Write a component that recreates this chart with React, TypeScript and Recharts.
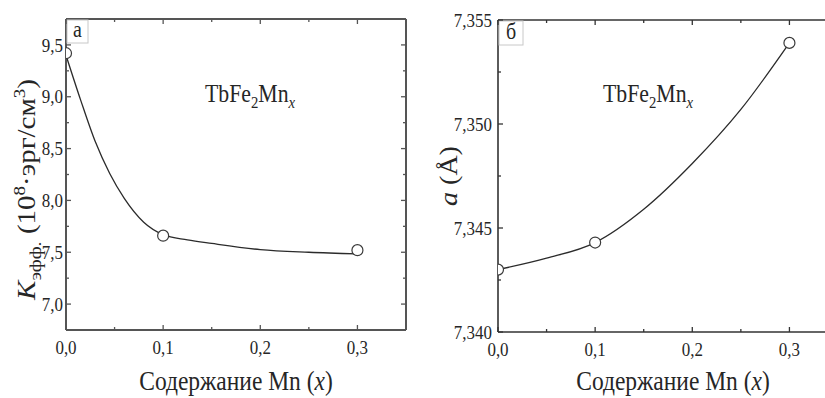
import React from 'react';
import { LineChart, Line, XAxis, YAxis, Label } from 'recharts';

// ---------- data: panel а ----------
const aPointX = [0, 0.1, 0.3];
const aPointY = [9.42, 7.66, 7.52];
const aCurveX = [0, 0.015, 0.03, 0.045, 0.06, 0.08, 0.1, 0.125, 0.15, 0.2, 0.25, 0.3];
const aCurveY = [9.4, 8.97, 8.57, 8.26, 8.02, 7.79, 7.67, 7.62, 7.585, 7.525, 7.5, 7.485];
const aYMajor = [7.0, 7.5, 8.0, 8.5, 9.0, 9.5];
const aYMinor = [7.25, 7.75, 8.25, 8.75, 9.25];
const aYLabels = ['7,0', '7,5', '8,0', '8,5', '9,0', '9,5'];

// ---------- data: panel б ----------
const bPointX = [0, 0.1, 0.3];
const bPointY = [7.343, 7.3443, 7.3539];
const bCurveX = [0, 0.05, 0.1, 0.15, 0.2, 0.25, 0.3];
const bCurveY = [7.343, 7.34355, 7.3443, 7.3459, 7.3481, 7.3507, 7.3539];
const bYMajor = [7.34, 7.345, 7.35, 7.355];
const bYMinor = [7.3425, 7.3475, 7.3525];
const bYLabels = ['7,340', '7,345', '7,350', '7,355'];

// ---------- shared x ----------
const xMajor = [0, 0.1, 0.2, 0.3];
const xMinor = [0.05, 0.15, 0.25];
const xLabels = ['0,0', '0,1', '0,2', '0,3'];

const FONT = 'Liberation Serif, Times New Roman, serif';
const SX = 0.87;
const TEXT = '#262626';
const fontStyle = (fs: number) => ({ fontFamily: FONT, fontSize: fs });

const zip = (xs: number[], ys: number[]) => xs.map((x, i) => ({ x, y: ys[i] }));

type Orient = 'bottom' | 'top' | 'left' | 'right';

function makeTick(orient: Orient, majors: number[], labels: string[] | null, color: string, offset: number, fs: number) {
  return function Tick(props: any) {
    const { x, y, payload } = props;
    const idx = majors.findIndex((m) => Math.abs(m - payload.value) < 1e-9);
    const len = idx >= 0 ? 5 : 3;
    let x2 = x;
    let y2 = y;
    if (orient === 'bottom') y2 = y - len;
    if (orient === 'top') y2 = y + len;
    if (orient === 'left') x2 = x + len;
    if (orient === 'right') x2 = x - len;
    let label: any = null;
    if (labels && idx >= 0) {
      if (orient === 'bottom') {
        label = (
          <text transform={`translate(${x},${y + offset}) scale(${SX},1)`} textAnchor="middle" style={fontStyle(fs)} fill={TEXT}>
            {labels[idx]}
          </text>
        );
      } else if (orient === 'left') {
        label = (
          <text transform={`translate(${x - offset},${y}) scale(${SX},1)`} textAnchor="end" dy="0.34em" style={fontStyle(fs)} fill={TEXT}>
            {labels[idx]}
          </text>
        );
      }
    }
    return (
      <g>
        <line x1={x} y1={y} x2={x2} y2={y2} stroke={color} strokeWidth={1.3} />
        {label}
      </g>
    );
  };
}

interface PanelProps {
  left: number;
  width: number;
  margin: { top: number; right: number; bottom: number; left: number };
  yAxisWidth: number;
  xAxisHeight: number;
  yDomain: [number, number];
  yMajor: number[];
  yMinor: number[];
  yLabels: string[];
  points: { x: number; y: number }[];
  curve: { x: number; y: number }[];
  axisColor: string;
  axisWidth: number;
  yLabelOffset: number;
  letter: string;
  letterBox: [number, number];
  annot: [number, number];
  yTitle: (plotL: number, plotT: number, plotB: number) => any;
  xTitleShift: number;
}

function Panel(p: PanelProps) {
  const H = 398;
  const plotL = p.margin.left + p.yAxisWidth;
  const plotT = p.margin.top + 1;
  const plotR = p.width - p.margin.right - 1;
  const plotB = H - p.margin.bottom - p.xAxisHeight;
  const xTicks = [...xMajor, ...xMinor].sort((a, b) => a - b);
  const yTicks = [...p.yMajor, ...p.yMinor].sort((a, b) => a - b);
  const axisLine = { stroke: p.axisColor, strokeWidth: p.axisWidth };

  const annotation = () => (
    <g>
      <rect x={plotL + 1} y={plotT + 1} width={p.letterBox[0]} height={p.letterBox[1]} fill="#fff" stroke="#c8c8c8" strokeWidth={1} />
      <text
        transform={`translate(${plotL + 1 + p.letterBox[0] / 2},${plotT + p.letterBox[1] - 5}) scale(${SX},1)`}
        textAnchor="middle"
        style={fontStyle(23)}
        fill={TEXT}
      >
        {p.letter}
      </text>
      <text transform={`translate(${plotL + p.annot[0]},${plotT + p.annot[1]}) scale(${SX},1)`} style={fontStyle(25)} fill={TEXT}>
        TbFe
        <tspan dy={6} fontSize={17}>2</tspan>
        <tspan dy={-6}>Mn</tspan>
        <tspan dy={6} fontSize={17} fontStyle="italic">x</tspan>
      </text>
    </g>
  );

  const xTitle = () => (
    <text
      transform={`translate(${(plotL + plotR) / 2 + p.xTitleShift},${390}) scale(${SX},1)`}
      textAnchor="middle"
      style={fontStyle(27)}
      fill={TEXT}
    >
      Содержание Mn (<tspan fontStyle="italic">x</tspan>)
    </text>
  );

  return (
    <div style={{ position: 'absolute', left: p.left, top: 0 }}>
      <LineChart width={p.width} height={H} margin={p.margin}>
        <XAxis
          xAxisId="b"
          dataKey="x"
          type="number"
          orientation="bottom"
          domain={[0, 0.35]}
          ticks={xTicks}
          interval={0}
          height={p.xAxisHeight}
          tickSize={0}
          tickMargin={0}
          tickLine={false}
          axisLine={axisLine}
          tick={makeTick('bottom', xMajor, xLabels, p.axisColor, 24, 19.5)}
          allowDataOverflow
        >
          <Label content={xTitle} />
        </XAxis>
        <XAxis
          xAxisId="t"
          dataKey="x"
          type="number"
          orientation="top"
          domain={[0, 0.35]}
          ticks={xTicks}
          interval={0}
          height={1}
          tickSize={0}
          tickMargin={0}
          tickLine={false}
          axisLine={axisLine}
          tick={makeTick('top', xMajor, null, p.axisColor, 0, 0)}
          allowDataOverflow
        />
        <YAxis
          yAxisId="l"
          type="number"
          orientation="left"
          domain={p.yDomain}
          ticks={yTicks}
          interval={0}
          width={p.yAxisWidth}
          tickSize={0}
          tickMargin={0}
          tickLine={false}
          axisLine={axisLine}
          tick={makeTick('left', p.yMajor, p.yLabels, p.axisColor, p.yLabelOffset, 19.5)}
          allowDataOverflow
        >
          <Label content={() => p.yTitle(plotL, plotT, plotB)} />
        </YAxis>
        <YAxis
          yAxisId="r"
          type="number"
          orientation="right"
          domain={p.yDomain}
          ticks={yTicks}
          interval={0}
          width={1}
          tickSize={0}
          tickMargin={0}
          tickLine={false}
          axisLine={axisLine}
          tick={makeTick('right', p.yMajor, null, p.axisColor, 0, 0)}
          allowDataOverflow
        >
          <Label content={annotation} />
        </YAxis>
        {/* invisible series binding the mirrored frame axes */}
        <Line
          xAxisId="t"
          yAxisId="r"
          data={p.points}
          dataKey="y"
          stroke="none"
          strokeWidth={0}
          dot={false}
          activeDot={false}
          legendType="none"
          isAnimationActive={false}
        />
        <Line
          xAxisId="b"
          yAxisId="l"
          data={p.curve}
          dataKey="y"
          type="monotone"
          stroke="#2b2b2b"
          strokeWidth={1.3}
          dot={false}
          isAnimationActive={false}
        />
        <Line
          xAxisId="b"
          yAxisId="l"
          data={p.points}
          dataKey="y"
          stroke="none"
          strokeWidth={0}
          dot={{ r: 5.5, fill: '#fff', stroke: '#3a3a3a', strokeWidth: 1.2 }}
          isAnimationActive={false}
        />
      </LineChart>
    </div>
  );
}

const titleA = (plotL: number, plotT: number, plotB: number) => (
  <text
    transform={`translate(${35},${(plotT + plotB) / 2 + 15}) scale(${SX},1) rotate(-90)`}
    textAnchor="middle"
    style={fontStyle(29)}
    fill={TEXT}
  >
    <tspan fontStyle="italic">K</tspan>
    <tspan dy={7} fontSize={20}>эфф.</tspan>
    <tspan dy={-7}> (10</tspan>
    <tspan dy={-11} fontSize={19}>8</tspan>
    <tspan dy={11}>·эрг/см</tspan>
    <tspan dy={-11} fontSize={19}>3</tspan>
    <tspan dy={11}>)</tspan>
  </text>
);

const titleB = (plotL: number, plotT: number, plotB: number) => (
  <text
    transform={`translate(${plotL - 41},${(plotT + plotB) / 2}) scale(${SX},1) rotate(-90)`}
    textAnchor="middle"
    style={fontStyle(28)}
    fill={TEXT}
  >
    <tspan fontStyle="italic">a</tspan> (Å)
  </text>
);

export default function App() {
  return (
    <div style={{ position: 'absolute', left: 0, top: 0, width: 825, height: 398, overflow: 'hidden', background: '#fff' }}>
      <Panel
        left={0}
        width={415}
        margin={{ top: 18, right: 8, bottom: 0, left: 0 }}
        yAxisWidth={66}
        xAxisHeight={68}
        yDomain={[6.75, 9.75]}
        yMajor={aYMajor}
        yMinor={aYMinor}
        yLabels={aYLabels}
        points={zip(aPointX, aPointY)}
        curve={zip(aCurveX, aCurveY)}
        axisColor="#555"
        axisWidth={2}
        yLabelOffset={3}
        letter="а"
        letterBox={[21, 23]}
        annot={[139, 83]}
        yTitle={titleA}
        xTitleShift={0}
      />
      <Panel
        left={415}
        width={428}
        margin={{ top: 19, right: 4, bottom: 0, left: 0 }}
        yAxisWidth={83}
        xAxisHeight={66}
        yDomain={[7.34, 7.355]}
        yMajor={bYMajor}
        yMinor={bYMinor}
        yLabels={bYLabels}
        points={zip(bPointX, bPointY)}
        curve={zip(bCurveX, bCurveY)}
        axisColor="#333"
        axisWidth={1.6}
        yLabelOffset={6}
        letter="б"
        letterBox={[24, 24]}
        annot={[105, 82]}
        yTitle={titleB}
        xTitleShift={5}
      />
    </div>
  );
}
